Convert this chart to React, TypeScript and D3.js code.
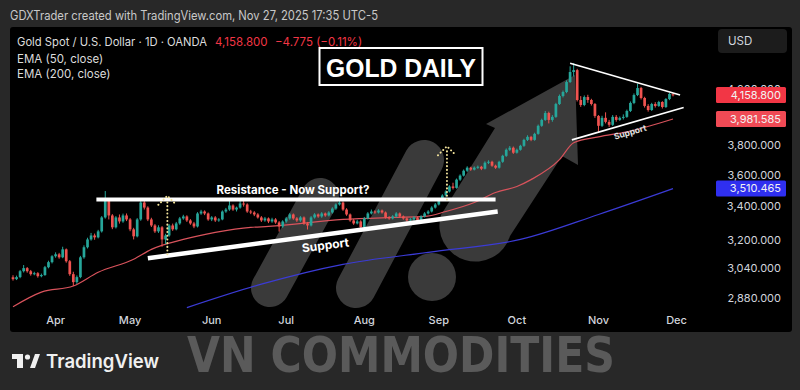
import React, { useRef, useEffect } from "react";
import * as d3 from "d3";

const W = 800;
const H = 390;

// daily candles [open, high, low, close], mid-March -> Nov 27
const candles: number[][] = [
  [2990, 3001, 2972, 2980], [2980, 2999, 2975, 2991], [2991, 3030, 2985, 3023], [3023, 3057, 3016, 3040],
  [3040, 3046, 3015, 3023], [3023, 3030, 2999, 3007], [3007, 3020, 3001, 3012], [3012, 3018, 2988, 2996],
  [2996, 3010, 2990, 3002], [3002, 3052, 2998, 3045], [3045, 3081, 3039, 3073], [3073, 3112, 3066, 3106],
  [3106, 3128, 3098, 3117], [3117, 3125, 3092, 3100], [3100, 3160, 3095, 3145], [3145, 3150, 3070, 3078],
  [3078, 3085, 2998, 3007], [3007, 3020, 2943, 2964], [2964, 3000, 2955, 2991], [2991, 3108, 2985, 3100],
  [3100, 3168, 3092, 3157], [3157, 3212, 3150, 3202], [3202, 3240, 3195, 3225], [3225, 3236, 3200, 3214],
  [3214, 3258, 3208, 3249], [3249, 3340, 3242, 3332], [3332, 3495, 3325, 3442], [3442, 3450, 3320, 3344],
  [3344, 3352, 3262, 3273], [3273, 3340, 3266, 3332], [3332, 3350, 3295, 3308], [3308, 3355, 3300, 3344],
  [3344, 3356, 3310, 3320], [3320, 3328, 3250, 3261], [3261, 3270, 3202, 3220], [3220, 3328, 3214, 3320],
  [3320, 3435, 3312, 3423], [3423, 3438, 3380, 3392], [3392, 3400, 3310, 3320], [3320, 3330, 3275, 3284],
  [3284, 3292, 3240, 3249], [3249, 3285, 3240, 3273], [3273, 3280, 3160, 3202], [3202, 3235, 3175, 3225],
  [3225, 3292, 3218, 3284], [3284, 3295, 3252, 3261], [3261, 3305, 3255, 3296], [3296, 3335, 3288, 3326],
  [3326, 3348, 3318, 3338], [3338, 3345, 3305, 3314], [3314, 3322, 3288, 3296], [3296, 3305, 3268, 3278],
  [3278, 3364, 3272, 3356], [3356, 3378, 3348, 3368], [3368, 3375, 3346, 3356], [3356, 3362, 3312, 3320],
  [3320, 3340, 3310, 3332], [3332, 3340, 3305, 3314], [3314, 3328, 3306, 3320], [3320, 3375, 3315, 3368],
  [3368, 3390, 3360, 3380], [3380, 3440, 3372, 3405], [3405, 3412, 3372, 3380], [3380, 3398, 3368, 3392],
  [3392, 3450, 3385, 3417], [3417, 3452, 3398, 3411], [3411, 3418, 3360, 3368], [3368, 3378, 3352, 3362],
  [3362, 3370, 3340, 3350], [3350, 3358, 3325, 3332], [3332, 3340, 3305, 3314], [3314, 3335, 3306, 3326],
  [3326, 3332, 3298, 3308], [3308, 3330, 3300, 3320], [3320, 3328, 3294, 3302], [3302, 3310, 3248, 3278],
  [3278, 3315, 3270, 3308], [3308, 3335, 3300, 3326], [3326, 3358, 3318, 3350], [3350, 3356, 3318, 3326],
  [3326, 3334, 3305, 3314], [3314, 3340, 3306, 3332], [3332, 3338, 3288, 3296], [3296, 3305, 3260, 3284],
  [3284, 3340, 3278, 3332], [3332, 3358, 3325, 3350], [3350, 3356, 3330, 3338], [3338, 3364, 3330, 3356],
  [3356, 3362, 3336, 3344], [3344, 3370, 3338, 3362], [3362, 3394, 3355, 3386], [3386, 3418, 3378, 3411],
  [3411, 3440, 3404, 3423], [3423, 3430, 3372, 3380], [3380, 3388, 3342, 3350], [3350, 3356, 3306, 3314],
  [3314, 3322, 3288, 3296], [3296, 3318, 3290, 3308], [3308, 3315, 3262, 3273], [3273, 3335, 3268, 3326],
  [3326, 3364, 3320, 3356], [3356, 3380, 3350, 3368], [3368, 3375, 3354, 3362], [3362, 3382, 3356, 3374],
  [3374, 3380, 3355, 3362], [3362, 3368, 3325, 3332], [3332, 3340, 3318, 3326], [3326, 3346, 3320, 3338],
  [3338, 3364, 3332, 3356], [3356, 3362, 3330, 3338], [3338, 3344, 3318, 3326], [3326, 3332, 3306, 3314],
  [3314, 3328, 3308, 3320], [3320, 3340, 3314, 3332], [3332, 3338, 3300, 3314], [3314, 3345, 3308, 3338],
  [3338, 3364, 3332, 3356], [3356, 3376, 3350, 3368], [3368, 3400, 3362, 3392], [3392, 3420, 3386, 3411],
  [3411, 3450, 3405, 3442], [3442, 3475, 3436, 3467], [3467, 3500, 3460, 3492], [3492, 3532, 3486, 3524],
  [3524, 3548, 3505, 3515], [3515, 3575, 3510, 3568], [3568, 3602, 3560, 3594], [3594, 3634, 3588, 3626],
  [3626, 3655, 3618, 3646], [3646, 3652, 3625, 3633], [3633, 3654, 3628, 3646], [3646, 3660, 3638, 3652],
  [3652, 3658, 3630, 3639], [3639, 3688, 3634, 3679], [3679, 3695, 3670, 3685], [3685, 3692, 3652, 3659],
  [3659, 3666, 3638, 3646], [3646, 3692, 3640, 3685], [3685, 3732, 3678, 3725], [3725, 3775, 3718, 3766],
  [3766, 3792, 3758, 3780], [3780, 3788, 3738, 3746], [3746, 3774, 3740, 3766], [3766, 3800, 3760, 3793],
  [3793, 3842, 3786, 3834], [3834, 3866, 3826, 3855], [3855, 3862, 3825, 3834], [3834, 3884, 3828, 3876],
  [3876, 3942, 3870, 3933], [3933, 3984, 3926, 3975], [3975, 4040, 3968, 4025], [4025, 4035, 3950, 3975],
  [3975, 4010, 3962, 3997], [3997, 4100, 3990, 4091], [4091, 4162, 4084, 4151], [4151, 4192, 4140, 4181],
  [4181, 4270, 4172, 4257], [4257, 4380, 4250, 4335], [4335, 4405, 4300, 4350], [4350, 4360, 4110, 4121],
  [4121, 4150, 4070, 4084], [4084, 4155, 4075, 4143], [4143, 4160, 4100, 4121], [4121, 4130, 4080, 4091],
  [4091, 4098, 3990, 4004], [4004, 4010, 3890, 3933], [3933, 4005, 3925, 3990], [3990, 4030, 3950, 3961],
  [3961, 3975, 3925, 3940], [3940, 4010, 3932, 3997], [3997, 4010, 3962, 3975], [3975, 4000, 3968, 3990],
  [3990, 4015, 3978, 3997], [3997, 4050, 3990, 4040], [4040, 4110, 4032, 4099], [4099, 4170, 4090, 4158],
  [4158, 4245, 4150, 4211], [4211, 4220, 4125, 4136], [4136, 4145, 4065, 4077], [4077, 4090, 4035, 4047],
  [4047, 4100, 4040, 4091], [4091, 4105, 4065, 4077], [4077, 4115, 4070, 4106], [4106, 4112, 4058, 4069],
  [4069, 4135, 4062, 4128], [4128, 4175, 4120, 4166], [4163.6, 4172, 4148, 4158.8],
];

// EMA readings (bar index, value)
const ema50Idx = [0, 8, 17, 24, 34, 39, 48, 57, 67, 72, 93, 107, 116, 122, 130, 136, 142, 146, 154, 158, 165, 173, 186];
const ema50Val = [2835, 2911, 2943, 3017, 3089, 3145, 3202, 3243, 3273, 3278, 3320, 3332, 3338, 3368, 3423, 3486, 3524, 3568, 3699, 3814, 3855, 3890, 3981.585];
const ema200Idx = [49, 70, 93, 117, 143, 165, 186];
const ema200Val = [2830, 2953, 3061, 3128, 3202, 3350, 3510.465];

const months = ["Apr", "May", "Jun", "Jul", "Aug", "Sep", "Oct", "Nov", "Dec"];
const monthIdx = [12, 33, 56, 77, 99, 120, 142, 165, 187];
const priceTicks = [4200, 3800, 3600, 3400, 3200, 3040, 2880];

const lastPrice = 4158.8;
const ema50Last = 3981.585;
const ema200Last = 3510.465;

// drawn annotations in (bar index, price)
const resistance = [[23.5, 3442], [136, 3442]];
const supportLine = [[38, 3095], [136.6, 3368]];
const triUpper = [[157, 4405], [188, 4158]];
const triLower = [[157.5, 3834], [189, 4066]];
const dotArrows = [
  [43.5, 3117, 3465],
  [122.3, 3442, 3790],
];

export default function App() {
  const svgRef = useRef<SVGSVGElement>(null);

  useEffect(() => {
    document.body.style.margin = "0";
    drawChart();
  }, []);

  function drawChart() {
    const svg = d3.select(svgRef.current);
    svg.selectAll("*").remove();
    const font = "Inter, 'Noto Sans', sans-serif";

    const x = d3.scaleLinear().domain([0, 186]).range([13, 673]);
    const y = d3.scaleLog().domain([2880, 4200]).range([298, 89.5]);

    svg.append("rect").attr("width", W).attr("height", H).attr("fill", "#282828");
    svg.append("rect").attr("x", 10).attr("y", 27).attr("width", 782).attr("height", 305).attr("rx", 3).attr("fill", "#000");

    svg.append("text").attr("x", 10).attr("y", 20).attr("font-family", font).attr("font-size", 12.5)
      .attr("fill", "#c9c9c9").attr("textLength", 368).attr("lengthAdjust", "spacingAndGlyphs")
      .text("GDXTrader created with TradingView.com, Nov 27, 2025 17:35 UTC-5");

    const defs = svg.append("defs");
    defs.append("clipPath").attr("id", "plot").append("rect")
      .attr("x", 10).attr("y", 27).attr("width", 690).attr("height", 283);
    const plot = svg.append("g").attr("clip-path", "url(#plot)");

    // watermark logo shapes
    const logo = plot.append("g").attr("fill", "#3a3a3a").attr("stroke", "#3a3a3a");
    logo.append("line").attr("x1", 270).attr("y1", 288).attr("x2", 320).attr("y2", 197)
      .attr("stroke-width", 38).attr("stroke-linecap", "round");
    logo.append("line").attr("x1", 356).attr("y1", 288).attr("x2", 424).attr("y2", 160)
      .attr("stroke-width", 40).attr("stroke-linecap", "round");
    logo.append("circle").attr("cx", 432).attr("cy", 277).attr("r", 24).attr("stroke", "none");
    logo.append("path").attr("stroke", "none")
      .attr("d", "M441,215 L495,128 L486,124 L575,75 L578,165 L562,156 L510,236 A36,36 0 0 1 441,215 Z");

    // EMA lines
    const line = d3.line<number[]>().x((d) => x(d[0])).y((d) => y(d[1])).curve(d3.curveMonotoneX);
    plot.append("path").datum(ema200Idx.map((d, i) => [d, ema200Val[i]]))
      .attr("fill", "none").attr("stroke", "#3b3bd6").attr("stroke-width", 1.2).attr("d", line);
    plot.append("path").datum(ema50Idx.map((d, i) => [d, ema50Val[i]]))
      .attr("fill", "none").attr("stroke", "#d9535c").attr("stroke-width", 1.2).attr("d", line);

    // candles
    const up = "#26a69a";
    const down = "#ef5350";
    const bw = 2.7;
    const cg = plot.append("g");
    cg.selectAll("line").data(candles).join("line")
      .attr("x1", (_, i) => x(i)).attr("x2", (_, i) => x(i))
      .attr("y1", (d) => y(d[1])).attr("y2", (d) => y(d[2]))
      .attr("stroke", (d) => (d[3] >= d[0] ? up : down)).attr("stroke-width", 1);
    cg.selectAll("rect").data(candles).join("rect")
      .attr("x", (_, i) => x(i) - bw / 2).attr("width", bw)
      .attr("y", (d) => y(Math.max(d[0], d[3])))
      .attr("height", (d) => Math.max(1, Math.abs(y(d[0]) - y(d[3]))))
      .attr("fill", (d) => (d[3] >= d[0] ? up : down));

    // white annotation lines
    const seg = (pts: number[][], w: number) =>
      plot.append("line")
        .attr("x1", x(pts[0][0])).attr("y1", y(pts[0][1]))
        .attr("x2", x(pts[1][0])).attr("y2", y(pts[1][1]))
        .attr("stroke", "#fff").attr("stroke-width", w);
    seg(resistance, 4);
    seg(supportLine, 4.5);
    seg(triUpper, 1.6);
    seg(triLower, 1.6);

    const rx = (x(resistance[0][0]) + x(resistance[1][0])) / 2 - 3;
    plot.append("text").attr("x", rx).attr("y", y(resistance[0][1]) - 5)
      .attr("text-anchor", "middle").attr("font-family", font).attr("font-weight", 700)
      .attr("font-size", 11.5).attr("fill", "#fff").text("Resistance - Now Support?");

    const sAng = (Math.atan2(y(supportLine[1][1]) - y(supportLine[0][1]), x(supportLine[1][0]) - x(supportLine[0][0])) * 180) / Math.PI;
    const sx = 326;
    const sy = y(supportLine[0][1]) + ((sx - x(supportLine[0][0])) / (x(supportLine[1][0]) - x(supportLine[0][0]))) * (y(supportLine[1][1]) - y(supportLine[0][1]));
    plot.append("text").attr("transform", `translate(${sx},${sy + 15}) rotate(${sAng})`)
      .attr("text-anchor", "middle").attr("font-family", font).attr("font-weight", 700)
      .attr("font-size", 12).attr("fill", "#fff").text("Support");

    const tAng = (Math.atan2(y(triLower[1][1]) - y(triLower[0][1]), x(triLower[1][0]) - x(triLower[0][0])) * 180) / Math.PI;
    plot.append("text").attr("transform", `translate(631,135) rotate(${tAng})`)
      .attr("text-anchor", "middle").attr("font-family", font).attr("font-weight", 700)
      .attr("font-size", 8.5).attr("fill", "#e0e0e0").text("Support");

    // dotted yellow arrows
    dotArrows.forEach((a) => {
      const ax = x(a[0]);
      const y0 = y(a[1]);
      const y1 = y(a[2]);
      const g = plot.append("g").attr("stroke", "#f3e39a").attr("stroke-width", 2)
        .attr("stroke-dasharray", "0.1 3.6").attr("stroke-linecap", "round").attr("fill", "none");
      g.append("line").attr("x1", ax).attr("y1", y0).attr("x2", ax).attr("y2", y1 + 4);
      g.append("path").attr("d", `M${ax - 9},${y1 + 9} L${ax},${y1} L${ax + 9},${y1 + 9}`);
    });

    // legend
    const lg = svg.append("g").attr("font-family", font).attr("font-size", 11.5);
    lg.append("text").attr("x", 17).attr("y", 46).attr("fill", "#dcdcdc")
      .attr("textLength", 190).attr("lengthAdjust", "spacingAndGlyphs")
      .text("Gold Spot / U.S. Dollar · 1D · OANDA");
    lg.append("text").attr("x", 215).attr("y", 46).attr("fill", "#f23645").text("4,158.800");
    lg.append("text").attr("x", 275).attr("y", 46).attr("fill", "#f23645").text("−4.775 (−0.11%)");
    lg.append("text").attr("x", 17).attr("y", 63).attr("fill", "#dcdcdc").text("EMA (50, close)");
    lg.append("text").attr("x", 17).attr("y", 78).attr("fill", "#dcdcdc").text("EMA (200, close)");

    // GOLD DAILY box
    svg.append("rect").attr("x", 319.5).attr("y", 48).attr("width", 163).attr("height", 37)
      .attr("fill", "#000").attr("stroke", "#fff").attr("stroke-width", 2);
    svg.append("text").attr("x", 401).attr("y", 76.5).attr("text-anchor", "middle")
      .attr("font-family", "'Liberation Sans', Arial, sans-serif").attr("font-weight", 700)
      .attr("font-size", 25).attr("fill", "#fff").attr("textLength", 150).attr("lengthAdjust", "spacingAndGlyphs")
      .text("GOLD DAILY");

    // price axis
    const ax = svg.append("g").attr("font-family", font).attr("font-size", 11);
    ax.selectAll("text.tick").data(priceTicks).join("text").attr("class", "tick")
      .attr("x", 781).attr("y", (d) => y(d)).attr("dy", "0.35em").attr("text-anchor", "end")
      .attr("fill", "#d1d4dc").text((d) => d3.format(",.3f")(d));

    const tags = [
      [lastPrice, "#f23645"],
      [ema50Last, "#f04a55"],
      [ema200Last, "#2f2ff0"],
    ] as [number, string][];
    tags.forEach(([v, c]) => {
      ax.append("rect").attr("x", 716).attr("y", y(v) - 8).attr("width", 70).attr("height", 16)
        .attr("rx", 1.5).attr("fill", c);
      ax.append("text").attr("x", 781).attr("y", y(v)).attr("dy", "0.35em").attr("text-anchor", "end")
        .attr("fill", "#f2f2f2").text(d3.format(",.3f")(v));
    });

    svg.append("rect").attr("x", 718).attr("y", 29).attr("width", 69).attr("height", 24).attr("rx", 4).attr("fill", "#1c1c1c");
    svg.append("text").attr("x", 728).attr("y", 45).attr("font-family", font).attr("font-size", 11.5)
      .attr("fill", "#d1d4dc").text("USD");

    // time axis
    svg.append("g").selectAll("text").data(months).join("text")
      .attr("x", (_, i) => x(monthIdx[i])).attr("y", 324).attr("text-anchor", "middle")
      .attr("font-family", font).attr("font-size", 11).attr("font-weight", 500).attr("fill", "#d1d4dc")
      .text((d) => d);

    // footer: TradingView mark + watermark text
    const tv = svg.append("g").attr("fill", "#f0f0f0");
    tv.append("rect").attr("x", 12).attr("y", 354).attr("width", 11).attr("height", 5);
    tv.append("rect").attr("x", 17).attr("y", 354).attr("width", 6).attr("height", 14);
    tv.append("circle").attr("cx", 27.5).attr("cy", 357).attr("r", 2.6);
    tv.append("path").attr("d", "M30,368 L35,354 L40,354 L35,368 Z");
    tv.append("text").attr("x", 46).attr("y", 368).attr("font-family", font).attr("font-weight", 600)
      .attr("font-size", 19).attr("textLength", 113).attr("lengthAdjust", "spacingAndGlyphs").text("TradingView");

    svg.append("text").attr("x", 187).attr("y", 372)
      .attr("font-family", "'DejaVu Sans Condensed', 'Liberation Sans Narrow', sans-serif")
      .attr("font-weight", 700).attr("font-size", 50).attr("fill", "#5a5a5a")
      .attr("textLength", 428).attr("lengthAdjust", "spacingAndGlyphs").text("VN COMMODITIES");
  }

  return (
    <div style={{ width: W, height: H }}>
      <svg ref={svgRef} width={W} height={H} style={{ display: "block" }} />
    </div>
  );
}
